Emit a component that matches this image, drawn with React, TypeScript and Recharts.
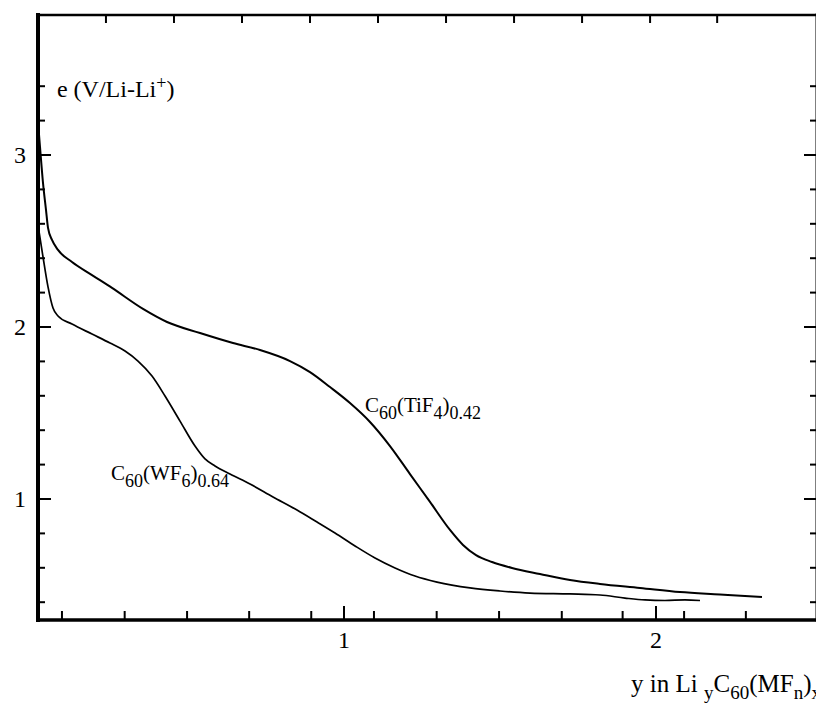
import React from 'react';
import { LineChart, Line, XAxis, YAxis, ReferenceDot } from 'recharts';

// C60(TiF4)0.42 discharge curve
const tif4X = [0.0192, 0.0256, 0.0353, 0.0449, 0.0513, 0.0641, 0.0833, 0.1282, 0.1923, 0.2564, 0.3558, 0.4327, 0.5385, 0.6442, 0.7308, 0.8269, 0.891, 0.9551, 1.0192, 1.0833, 1.1474, 1.2115, 1.2756, 1.3397, 1.3814, 1.4231, 1.4744, 1.5385, 1.6282, 1.7244, 1.8205, 1.9487, 2.0769, 2.2051, 2.3397];
const tif4Y = [3.192, 3.047, 2.837, 2.68, 2.576, 2.506, 2.448, 2.378, 2.302, 2.227, 2.105, 2.029, 1.965, 1.907, 1.866, 1.802, 1.738, 1.651, 1.558, 1.448, 1.308, 1.145, 0.983, 0.82, 0.733, 0.674, 0.634, 0.599, 0.564, 0.529, 0.506, 0.483, 0.459, 0.445, 0.43];

// C60(WF6)0.64 discharge curve
const wf6X = [0.0192, 0.0353, 0.0513, 0.0673, 0.0833, 0.1282, 0.1923, 0.25, 0.2981, 0.3397, 0.3846, 0.4263, 0.4744, 0.5224, 0.5545, 0.5865, 0.6346, 0.6987, 0.7724, 0.8494, 0.9135, 0.9712, 1.0353, 1.0994, 1.1635, 1.2276, 1.2981, 1.4038, 1.5, 1.5962, 1.7244, 1.8205, 1.9006, 1.9647, 2.0288, 2.0929, 2.141];
const wf6Y = [2.593, 2.407, 2.233, 2.11, 2.064, 2.017, 1.959, 1.907, 1.86, 1.802, 1.715, 1.599, 1.453, 1.308, 1.233, 1.192, 1.145, 1.087, 1.012, 0.936, 0.866, 0.802, 0.727, 0.657, 0.599, 0.552, 0.517, 0.483, 0.465, 0.453, 0.448, 0.442, 0.424, 0.413, 0.41, 0.413, 0.41];

// axis ticks
const yTicks = [0.4, 0.6, 0.8, 1, 1.2, 1.4, 1.6, 1.8, 2, 2.2, 2.4, 2.6, 2.8, 3, 3.2, 3.4];
const yLabeled = [1, 2, 3];
const xMinorTicks = [0.096, 0.297, 0.497, 0.696, 0.895, 1.096, 1.297, 1.497, 1.698, 1.893, 2.09, 2.288];
const xLabeled = [1, 2];
const xTopTicks = [0.237, 0.455, 0.673, 0.891, 1.109, 1.327, 1.545, 1.763, 1.981, 2.196];

const xDomain: [number, number] = [0.0192, 2.516];
const yDomain: [number, number] = [0.2965, 3.814];

const tif4Data = tif4X.map((x, i) => ({ x, y: tif4Y[i] }));
const wf6Data = wf6X.map((x, i) => ({ x, y: wf6Y[i] }));
const xBottomTicks = [...xMinorTicks, ...xLabeled].sort((a, b) => a - b);

const FONT = '"Liberation Serif", "Times New Roman", serif';
const FS = 24;
const SUB = 18;

const LeftTick = (props: any) => {
  const { x, y, payload } = props;
  const v = payload.value;
  const major = yLabeled.includes(v);
  return (
    <g>
      <line x1={x} y1={y} x2={x + (major ? 13 : 7)} y2={y} stroke="#000" strokeWidth={2} />
      {major && (
        <text x={x - 12} y={y + 8} textAnchor="end" fontFamily={FONT} fontSize={FS} fill="#000">
          {v}
        </text>
      )}
    </g>
  );
};

const RightTick = (props: any) => {
  const { x, y, payload } = props;
  const major = yLabeled.includes(payload.value);
  return <line x1={x} y1={y} x2={x - (major ? 13 : 7)} y2={y} stroke="#000" strokeWidth={2} />;
};

const BottomTick = (props: any) => {
  const { x, y, payload } = props;
  const v = payload.value;
  const major = xLabeled.includes(v);
  return (
    <g>
      <line x1={x} y1={y} x2={x} y2={y - (major ? 14 : 9)} stroke="#000" strokeWidth={2} />
      {major && (
        <text x={x} y={y + 28} textAnchor="middle" fontFamily={FONT} fontSize={FS} fill="#000">
          {v}
        </text>
      )}
    </g>
  );
};

const TopTick = (props: any) => {
  const { x, y } = props;
  return <line x1={x} y1={y} x2={x} y2={y + 8} stroke="#000" strokeWidth={2} />;
};

const XTitle = (props: any) => {
  const vb = props.viewBox || {};
  return (
    <text x={vb.x} y={vb.y} textAnchor="end" fontFamily={FONT} fontSize={25} fill="#000">
      <tspan>y in Li </tspan>
      <tspan fontSize={19} dy={7}>y</tspan>
      <tspan dy={-7}>C</tspan>
      <tspan fontSize={19} dy={7}>60</tspan>
      <tspan dy={-7}>(MF</tspan>
      <tspan fontSize={19} dy={7}>n</tspan>
      <tspan dy={-7}>)</tspan>
      <tspan fontSize={19} dy={7}>x</tspan>
    </text>
  );
};

const YTitle = (props: any) => {
  const vb = props.viewBox || {};
  return (
    <text x={vb.x} y={vb.y} fontFamily={FONT} fontSize={FS} fill="#000">
      <tspan>e (V/Li-Li</tspan>
      <tspan fontSize={SUB} dy={-8}>+</tspan>
      <tspan dy={8}>)</tspan>
    </text>
  );
};

const CurveLabel = (props: any) => {
  const vb = props.viewBox || {};
  const { name, sub } = props;
  return (
    <text x={vb.x} y={vb.y} fontFamily={FONT} fontSize={21} fill="#000">
      <tspan>C</tspan>
      <tspan fontSize={SUB} dy={7}>60</tspan>
      <tspan dy={-7}>({name}</tspan>
      <tspan fontSize={SUB} dy={7}>{sub}</tspan>
      <tspan dy={-7}>)</tspan>
      <tspan fontSize={SUB} dy={7}>{props.x0}</tspan>
    </text>
  );
};

export default function App() {
  return (
    <div style={{ width: 816, height: 697, background: '#fff' }}>
      <LineChart width={816} height={697} margin={{ top: 6, right: 6, bottom: 0, left: 0 }}>
        <XAxis
          xAxisId="b"
          dataKey="x"
          type="number"
          orientation="bottom"
          domain={xDomain}
          allowDataOverflow
          ticks={xBottomTicks}
          interval={0}
          height={85}
          tickLine={false}
          tickSize={0}
          tickMargin={0}
          tick={<BottomTick />}
          axisLine={{ stroke: '#000', strokeWidth: 3.5, strokeLinecap: 'square' }}
        />
        <XAxis
          xAxisId="t"
          dataKey="x"
          type="number"
          orientation="top"
          domain={xDomain}
          allowDataOverflow
          ticks={xTopTicks}
          interval={0}
          height={1}
          tickLine={false}
          tickSize={0}
          tickMargin={0}
          tick={<TopTick />}
          axisLine={{ stroke: '#000', strokeWidth: 2.5, strokeLinecap: 'square' }}
        />
        <YAxis
          yAxisId="l"
          dataKey="y"
          type="number"
          orientation="left"
          domain={yDomain}
          allowDataOverflow
          ticks={yTicks}
          interval={0}
          width={30}
          tickLine={false}
          tickSize={0}
          tickMargin={0}
          tick={<LeftTick />}
          axisLine={{ stroke: '#000', strokeWidth: 4, strokeLinecap: 'square' }}
        />
        <YAxis
          yAxisId="r"
          dataKey="y"
          type="number"
          orientation="right"
          domain={yDomain}
          allowDataOverflow
          ticks={yTicks}
          interval={0}
          width={1}
          tickLine={false}
          tickSize={0}
          tickMargin={0}
          tick={<RightTick />}
          axisLine={{ stroke: '#000', strokeWidth: 3, strokeLinecap: 'square' }}
        />
        <Line
          xAxisId="b"
          yAxisId="l"
          data={tif4Data}
          dataKey="y"
          type="monotone"
          stroke="#000"
          strokeWidth={2}
          dot={false}
          isAnimationActive={false}
        />
        <Line
          xAxisId="b"
          yAxisId="l"
          data={wf6Data}
          dataKey="y"
          type="monotone"
          stroke="#000"
          strokeWidth={1.7}
          dot={false}
          isAnimationActive={false}
        />
        <ReferenceDot
          xAxisId="b"
          yAxisId="l"
          x={0.08}
          y={3.337}
          r={0}
          fill="none"
          stroke="none"
          ifOverflow="visible"
          label={{ content: <YTitle /> }}
        />
        <ReferenceDot
          xAxisId="b"
          yAxisId="l"
          x={2.5288}
          y={-0.122}
          r={0}
          fill="none"
          stroke="none"
          ifOverflow="visible"
          label={{ content: <XTitle /> }}
        />
        <ReferenceDot
          xAxisId="b"
          yAxisId="l"
          x={1.067}
          y={1.506}
          r={0}
          fill="none"
          stroke="none"
          ifOverflow="visible"
          label={{ content: <CurveLabel name="TiF" sub="4" x0="0.42" /> }}
        />
        <ReferenceDot
          xAxisId="b"
          yAxisId="l"
          x={0.253}
          y={1.11}
          r={0}
          fill="none"
          stroke="none"
          ifOverflow="visible"
          label={{ content: <CurveLabel name="WF" sub="6" x0="0.64" /> }}
        />
      </LineChart>
    </div>
  );
}
